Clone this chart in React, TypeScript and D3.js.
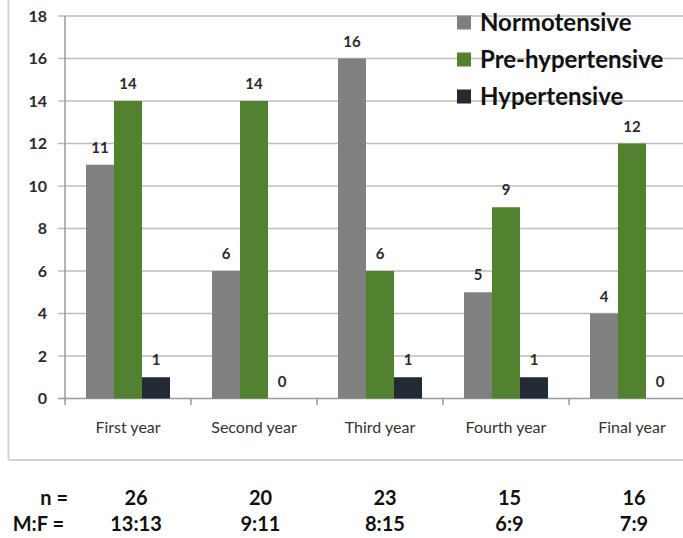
import React from "react";
import * as d3 from "d3";

const categories = ["First year", "Second year", "Third year", "Fourth year", "Final year"];
const seriesNames = ["Normotensive", "Pre-hypertensive", "Hypertensive"];
const normotensive = [11, 6, 16, 5, 4];
const preHypertensive = [14, 14, 6, 9, 12];
const hypertensive = [1, 0, 1, 1, 0];
const yTicks = [0, 2, 4, 6, 8, 10, 12, 14, 16, 18];
const nValues = ["26", "20", "23", "15", "16"];
const mfValues = ["13:13", "9:11", "8:15", "6:9", "7:9"];
const colors = ["#808080", "#52812f", "#222a35"];

const W = 683;
const H = 538;
const FONT = "Lato, 'Open Sans', sans-serif";

export default function App() {
  const series = [normotensive, preHypertensive, hypertensive];
  const x = d3.scaleBand<string>().domain(categories).range([65, 695]).padding(0);
  const y = d3.scaleLinear().domain([0, 18]).range([398.5, 16]);
  const barW = 28;
  const inner = d3
    .scaleBand<string>()
    .domain(seriesNames)
    .range([x.bandwidth() / 2 - 1.5 * barW, x.bandwidth() / 2 + 1.5 * barW])
    .padding(0);

  return (
    <svg
      width={W}
      height={H}
      style={{ position: "absolute", left: 0, top: 0, background: "#fff" }}
      fontFamily={FONT}
    >
      {/* outer frame */}
      <line x1={8.5} x2={8.5} y1={0} y2={460} stroke="#d4d4d4" strokeWidth={2} />
      <line x1={8.5} x2={W} y1={460} y2={460} stroke="#d4d4d4" strokeWidth={2} />

      {/* gridlines and y ticks */}
      {yTicks.map((t) => (
        <g key={t}>
          <line
            x1={58}
            x2={695}
            y1={y(t)}
            y2={y(t)}
            stroke={t === 0 ? "#9a9a9a" : "#bdbdbd"}
            strokeWidth={1.5}
          />
          <text
            x={47}
            y={y(t)}
            dy="0.35em"
            textAnchor="end"
            fontSize={16}
            fontWeight="bold"
            fill="#2b2b2b"
          >
            {t}
          </text>
        </g>
      ))}
      {/* y axis line */}
      <line x1={65} x2={65} y1={16} y2={398.5} stroke="#9a9a9a" strokeWidth={1.5} />

      {/* x ticks */}
      {categories.map((c) => (
        <line
          key={"t" + c}
          x1={x(c)!}
          x2={x(c)!}
          y1={398.5}
          y2={405}
          stroke="#9a9a9a"
          strokeWidth={1.5}
        />
      ))}

      {/* bars */}
      {categories.map((c, i) => (
        <g key={c} transform={`translate(${x(c)},0)`}>
          {series.map((s, j) => {
            const v = s[i];
            const bx = inner(seriesNames[j])!;
            return (
              <g key={j}>
                {v > 0 && (
                  <rect
                    x={bx}
                    y={y(v)}
                    width={inner.bandwidth()}
                    height={y(0) - y(v)}
                    fill={colors[j]}
                  />
                )}
                <text
                  x={bx + inner.bandwidth() / 2}
                  y={y(v) - 12}
                  textAnchor="middle"
                  fontSize={15}
                  fontWeight="bold"
                  fill="#2b2b2b"
                >
                  {v}
                </text>
              </g>
            );
          })}
          <text
            x={x.bandwidth() / 2}
            y={433}
            textAnchor="middle"
            fontSize={16}
            fill="#333"
          >
            {c}
          </text>
        </g>
      ))}

      {/* legend */}
      {seriesNames.map((name, j) => {
        const cy = 22.5 + j * 37;
        return (
          <g key={name}>
            <rect x={457} y={cy - 7} width={14} height={14} fill={colors[j]} />
            <text x={480} y={cy} dy="0.35em" fontSize={24} fontWeight="bold" fill="#111">
              {name}
            </text>
          </g>
        );
      })}

      {/* table below */}
      <text x={68} y={505} textAnchor="end" fontSize={20} fontWeight="bold" fill="#111">
        n =
      </text>
      <text x={64} y={531} textAnchor="end" fontSize={20} fontWeight="bold" fill="#111">
        M:F =
      </text>
      {categories.map((c, i) => (
        <g key={"tbl" + c}>
          <text
            x={x(c)! + x.bandwidth() / 2 + 8 - i * 1.5}
            y={505}
            textAnchor="middle"
            fontSize={20}
            fontWeight="bold"
            fill="#111"
          >
            {nValues[i]}
          </text>
          <text
            x={x(c)! + x.bandwidth() / 2 + 8 - i * 1.5}
            y={531}
            textAnchor="middle"
            fontSize={20}
            fontWeight="bold"
            fill="#111"
          >
            {mfValues[i]}
          </text>
        </g>
      ))}
    </svg>
  );
}
